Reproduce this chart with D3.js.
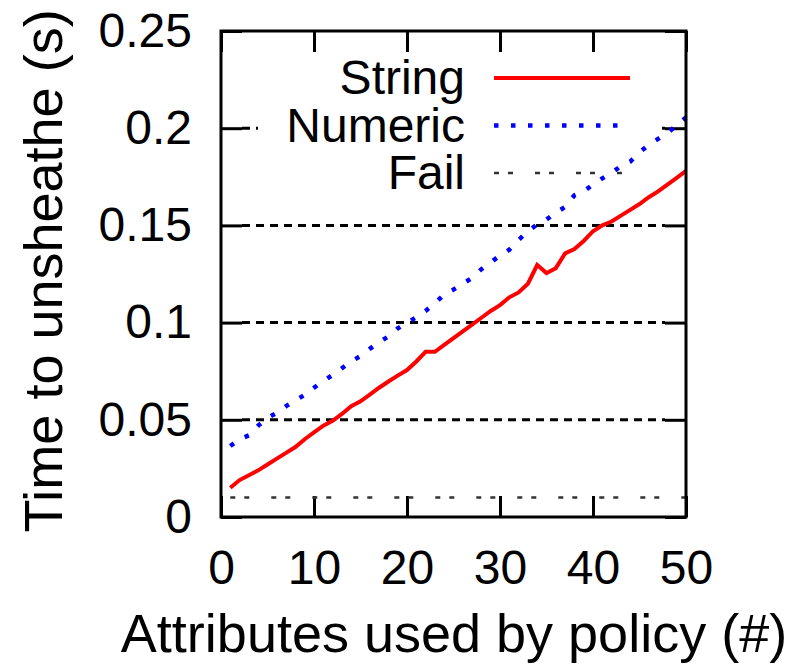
<!DOCTYPE html>
<html>
<head>
<meta charset="utf-8">
<script src="https://cdn.jsdelivr.net/npm/d3@7"></script>
<style>
    body { margin: 0; background: #fff; }
    svg { display: block; }
    text { font-family: "Liberation Sans", Arial, sans-serif; fill: #000; }
</style>
</head>
<body>
<svg id="chart" width="798" height="667"></svg>
<script>
// Attributes used by policy (#)
var attributes = d3.range(1, 51);

// Time to unsheathe (s)
var stringTimes = [
    0.015, 0.019, 0.0215, 0.024, 0.027, 0.030, 0.033, 0.036, 0.040, 0.0435,
    0.047, 0.0495, 0.053, 0.057, 0.0595, 0.063, 0.0665, 0.0697, 0.0727, 0.0756,
    0.080, 0.085, 0.085, 0.0885, 0.092, 0.0955, 0.099, 0.1025, 0.106, 0.109,
    0.113, 0.1155, 0.120, 0.1296, 0.1255, 0.128, 0.1356, 0.1378, 0.142, 0.147,
    0.150, 0.152, 0.155, 0.158, 0.161, 0.1645, 0.1675, 0.171, 0.1745, 0.178
];

var numericTimes = [
    0.0365, 0.040, 0.042, 0.047, 0.051, 0.0535, 0.057, 0.060, 0.0628, 0.0665,
    0.070, 0.073, 0.0765, 0.080, 0.0828, 0.0865, 0.090, 0.0928, 0.097, 0.100,
    0.1027, 0.106, 0.110, 0.1145, 0.117, 0.120, 0.123, 0.1275, 0.131, 0.1345,
    0.1375, 0.1425, 0.147, 0.1505, 0.153, 0.1565, 0.1595, 0.1655, 0.1675, 0.171,
    0.1742, 0.177, 0.1805, 0.1828, 0.1875, 0.1915, 0.1945, 0.1975, 0.2015, 0.2055
];

var failTimes = attributes.map(function () { return 0.01; });

var xTicks = [0, 10, 20, 30, 40, 50];
var yTicks = [0, 0.05, 0.1, 0.15, 0.2, 0.25];

var seriesNames = ["String", "Numeric", "Fail"];

var svg = d3.select("#chart");

// plot frame (pixels)
var plotLeft = 221, plotRight = 686, plotTop = 31, plotBottom = 517,
    tickLen = 21;

var x = d3.scaleLinear().domain([0, 50]).range([plotLeft, plotRight]);
var y = d3.scaleLinear().domain([0, 0.25]).range([plotBottom, plotTop]);

var styles = {
    String:  { stroke: "#ff0000", width: 4,   dash: null },
    Numeric: { stroke: "#0000ff", width: 4.5, dash: "4.5,12.5" },
    Fail:    { stroke: "#333",    width: 2.5, dash: "5,9,5,22" }
};

var data = [
    { name: "String",  values: stringTimes },
    { name: "Numeric", values: numericTimes },
    { name: "Fail",    values: failTimes }
];

// Grid lines (dashed) on the inner y ticks
svg.append("g")
    .selectAll("line")
    .data(yTicks.slice(1, -1))
    .enter().append("line")
        .attr("x1", plotLeft + tickLen)
        .attr("x2", plotRight - tickLen)
        .attr("y1", function (d) { return y(d); })
        .attr("y2", function (d) { return y(d); })
        .attr("stroke", "#000")
        .attr("stroke-width", 3)
        .attr("stroke-dasharray", "8,6");

// Key box hides the grid behind it (gnuplot opaque key)
svg.append("rect")
    .attr("x", 258).attr("y", 48)
    .attr("width", 400).attr("height", 148)
    .attr("fill", "#fff");

// Axes: ticks pointing inwards, mirrored on the other sides
var axisBottom = d3.axisBottom(x).tickValues(xTicks).tickSize(-tickLen).tickPadding(33)
    .tickFormat(d3.format("d"));
var axisTop = d3.axisTop(x).tickValues(xTicks).tickSize(-tickLen).tickFormat("");
var axisLeft = d3.axisLeft(y).tickValues(yTicks).tickSize(-tickLen).tickPadding(29)
    .tickFormat(function (d) { return d === 0 ? "0" : d3.format("")(d); });
var axisRight = d3.axisRight(y).tickValues(yTicks).tickSize(-tickLen).tickFormat("");

function styleAxis(g) {
    g.select(".domain").remove();
    g.selectAll(".tick line").attr("stroke", "#000").attr("stroke-width", 3);
    g.selectAll(".tick text")
        .attr("font-size", 48)
        .attr("font-family", "Liberation Sans, Arial, sans-serif")
        .attr("fill", "#000");
}

svg.append("g").attr("transform", "translate(0," + plotBottom + ")").call(axisBottom).call(styleAxis);
svg.append("g").attr("transform", "translate(0," + plotTop + ")").call(axisTop).call(styleAxis);
svg.append("g").attr("transform", "translate(" + plotLeft + ",0)").call(axisLeft).call(styleAxis);
svg.append("g").attr("transform", "translate(" + plotRight + ",0)").call(axisRight).call(styleAxis);

// Data lines
var line = d3.line()
    .x(function (d, i) { return x(attributes[i]); })
    .y(function (d) { return y(d); });

svg.selectAll(".series")
    .data(data.slice().reverse())
    .enter().append("path")
        .attr("class", "series")
        .attr("d", function (d) { return line(d.values); })
        .attr("fill", "none")
        .attr("stroke", function (d) { return styles[d.name].stroke; })
        .attr("stroke-width", function (d) { return styles[d.name].width; })
        .attr("stroke-dasharray", function (d) { return styles[d.name].dash; });

// Frame
svg.append("rect")
    .attr("x", plotLeft).attr("y", plotTop)
    .attr("width", plotRight - plotLeft).attr("height", plotBottom - plotTop)
    .attr("fill", "none")
    .attr("stroke", "#000")
    .attr("stroke-width", 3);

// Legend: text right aligned, sample line to the right of it
var legend = svg.selectAll(".legend")
    .data(seriesNames)
    .enter().append("g")
        .attr("class", "legend")
        .attr("transform", function (d, i) { return "translate(0," + (78 + i * 47.5) + ")"; });

legend.append("text")
    .attr("x", 465)
    .attr("y", 16)
    .attr("text-anchor", "end")
    .attr("font-size", 48)
    .text(function (d) { return d; });

legend.append("line")
    .attr("x1", 494)
    .attr("x2", function (d) { return d === "String" ? 630 : 622; })
    .attr("stroke", function (d) { return styles[d].stroke; })
    .attr("stroke-width", function (d) { return styles[d].width; })
    .attr("stroke-dasharray", function (d) { return styles[d].dash; });

// Axis titles
svg.append("text")
    .attr("x", 454)
    .attr("y", 652)
    .attr("text-anchor", "middle")
    .attr("font-size", 54)
    .text("Attributes used by policy (#)");

svg.append("text")
    .attr("transform", "translate(62,271) rotate(-90)")
    .attr("text-anchor", "middle")
    .attr("font-size", 54)
    .text("Time to unsheathe (s)");
</script>
</body>
</html>
